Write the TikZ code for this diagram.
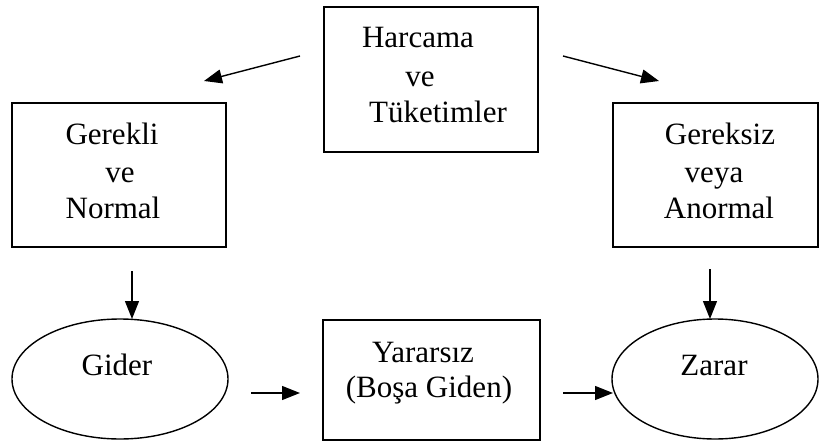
\documentclass[tikz,border=0pt]{standalone}
\usepackage{fontspec}
\setmainfont{Liberation Serif}
\usetikzlibrary{arrows.meta,shapes.geometric}
\tikzset{
  boxshape/.style={draw, line width=1.4pt, rectangle, inner sep=0pt},
  ellshape/.style={draw, line width=1.4pt, ellipse, inner sep=0pt},
  txt/.style={anchor=base, inner sep=0pt, font=\fontsize{31}{37}\selectfont},
  arr/.style={line width=1.4pt, -{Triangle[length=18pt,width=14pt]}}
}
\begin{document}
\begin{tikzpicture}[x=1pt,y=-1pt]
\useasboundingbox (0,0) rectangle (819,441);
% boxes
\node[boxshape, minimum width=214pt, minimum height=145pt] (top) at (431,79.5) {};
\node[boxshape, minimum width=214pt, minimum height=144pt] (left) at (119,175) {};
\node[boxshape, minimum width=205pt, minimum height=144pt] (right) at (715.5,175) {};
\node[boxshape, minimum width=217pt, minimum height=120pt] (mid) at (431.5,380) {};
\node[ellshape, minimum width=216pt, minimum height=120pt] (gider) at (120,379) {};
\node[ellshape, minimum width=206pt, minimum height=120pt] (zarar) at (715,379) {};
% texts
\node[txt] (t1) at (418,48) {Harcama};
\node[txt] (t2) at (420,87) {ve};
\node[txt] (t3) at (438,123) {Tüketimler};
\node[txt] (l1) at (112,145) {Gerekli};
\node[txt] (l2) at (120,182) {ve};
\node[txt] (l3) at (113,218) {Normal};
\node[txt] (r1) at (720,145) {Gereksiz};
\node[txt] (r2) at (714,182) {veya};
\node[txt] (r3) at (719,218) {Anormal};
\node[txt] (m1) at (423,362) {Yararsız};
\node[txt] (m2) at (429,397) {(Boşa Giden)};
\node[txt] (g1) at (117,375) {Gider};
\node[txt] (z1) at (714,375) {Zarar};
% arrow end points
\coordinate (a1s) at (300,56);
\coordinate (a1e) at (204,81);
\coordinate (a2s) at (563,56);
\coordinate (a2e) at (659,81);
\coordinate (a3s) at (132,271);
\coordinate (a3e) at (132,319);
\coordinate (a4s) at (710,269);
\coordinate (a4e) at (710,319);
\coordinate (a5s) at (251,393);
\coordinate (a5e) at (300,393);
\coordinate (a6s) at (563,393);
\coordinate (a6e) at (613,393);
% connectors
\draw[arr] (a1s) -- (a1e);
\draw[arr] (a2s) -- (a2e);
\draw[arr] (a3s) -- (a3e);
\draw[arr] (a4s) -- (a4e);
\draw[arr] (a5s) -- (a5e);
\draw[arr] (a6s) -- (a6e);
\end{tikzpicture}
\end{document}
